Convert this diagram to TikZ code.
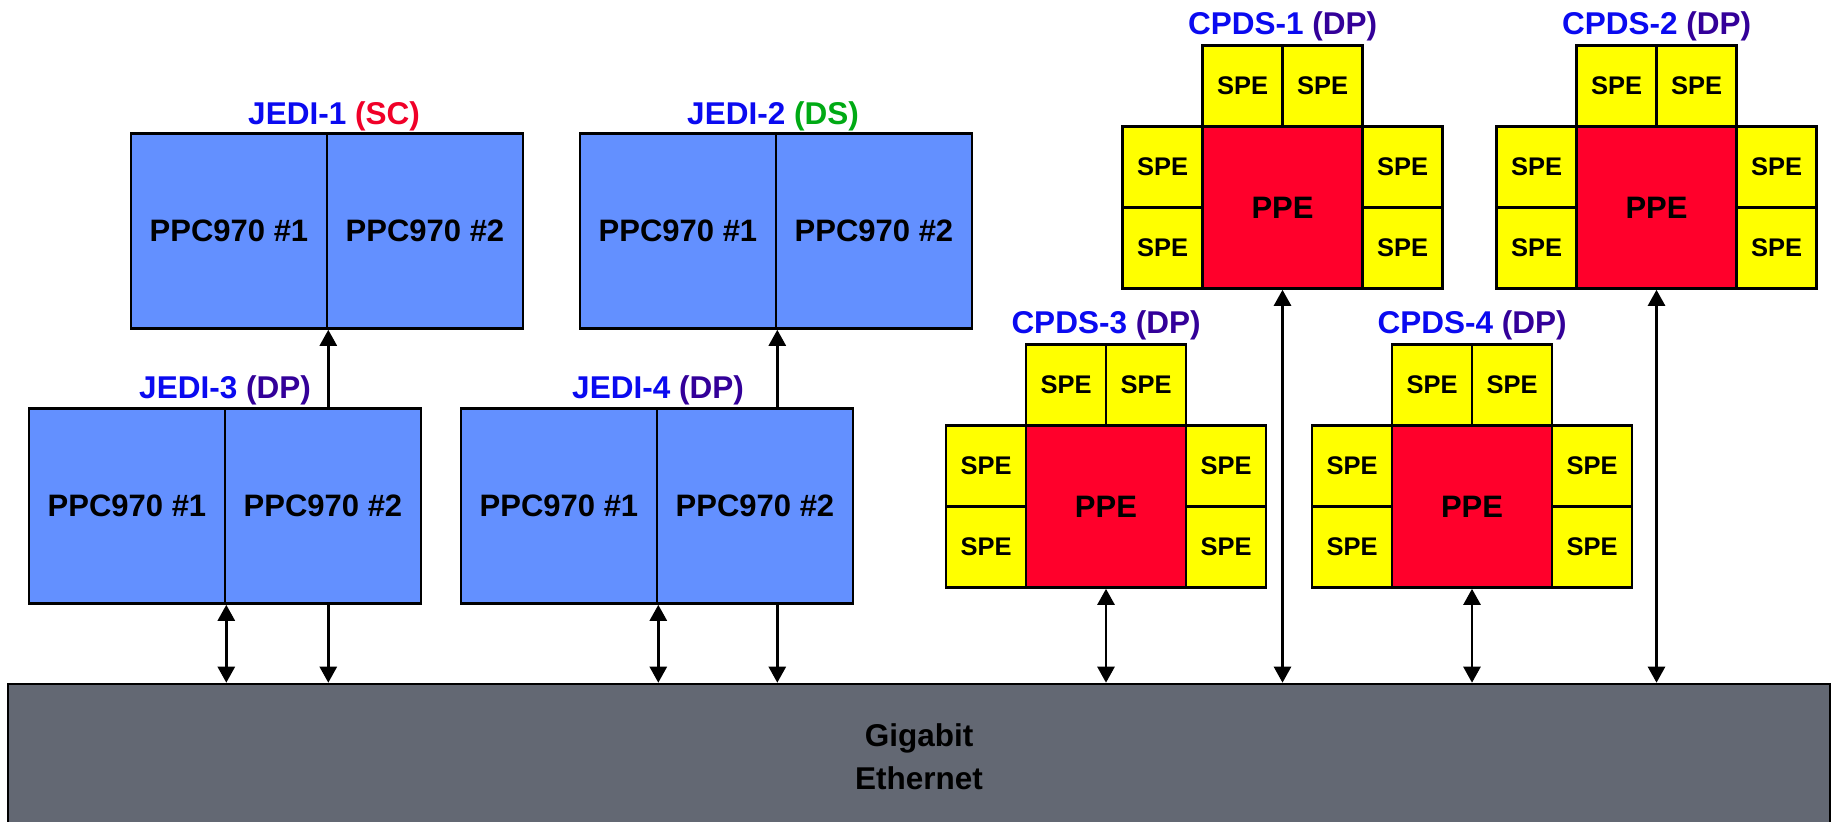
\documentclass[tikz,border=0pt]{standalone}
\usepackage{fontspec}
\setmainfont{Liberation Sans}
\usetikzlibrary{arrows.meta}
\definecolor{jblue}{RGB}{99,144,255}
\definecolor{ppered}{RGB}{255,0,43}
\definecolor{speyel}{RGB}{255,255,0}
\definecolor{ethgray}{RGB}{99,104,115}
\definecolor{lblue}{RGB}{10,10,240}
\definecolor{lred}{RGB}{240,0,40}
\definecolor{lgreen}{RGB}{0,170,20}
\definecolor{lpurple}{RGB}{51,0,153}
\tikzset{
  bigfont/.style={font=\bfseries\fontsize{15.5}{18}\selectfont},
  half/.style={draw, line width=1.3pt, fill=jblue, inner sep=0pt,
    minimum width=98pt, minimum height=97.5pt, bigfont},
  spe/.style={draw, line width=1.3pt, fill=speyel, inner sep=0pt,
    minimum width=40pt, minimum height=40.5pt, font=\bfseries\fontsize{12.75}{15}\selectfont},
  ppe/.style={draw, line width=1.3pt, fill=ppered, inner sep=0pt,
    minimum width=80pt, minimum height=81pt, bigfont},
  lbl/.style={anchor=base, inner sep=0pt, font=\bfseries\fontsize{15.75}{18}\selectfont},
  ethbox/.style={draw, line width=1.3pt, fill=ethgray, inner sep=0pt,
    minimum width=911pt, minimum height=73pt, align=center,
    font=\bfseries\fontsize{15.75}{21.3}\selectfont},
  uarr/.style={line width=1.3pt, -{Triangle[width=8.5pt,length=8pt]}},
  darr/.style={line width=1.3pt, {Triangle[width=8.5pt,length=8pt]}-{Triangle[width=8.5pt,length=8pt]}}
}
% #1 name prefix, #2 left x, #3 top y, #4 label number
\newcommand\cpdsblock[4]{%
  \node[spe] (#1t1) at ({#2+120},{#3+40.5}) {SPE};
  \node[spe] (#1t2) at ({#2+200},{#3+40.5}) {SPE};
  \node[spe] (#1l1) at ({#2+40},{#3+121.5}) {SPE};
  \node[spe] (#1l2) at ({#2+40},{#3+202.5}) {SPE};
  \node[spe] (#1r1) at ({#2+280},{#3+121.5}) {SPE};
  \node[spe] (#1r2) at ({#2+280},{#3+202.5}) {SPE};
  \node[ppe] (#1p) at ({#2+160},{#3+162}) {PPE};
  \node[lbl] (#1lab) at ({#2+160},{#3-11}) {\textcolor{lblue}{CPDS-#4} \textcolor{lpurple}{(DP)}};
}
\begin{document}
\begin{tikzpicture}[x=0.5pt,y=-0.5pt]
\useasboundingbox (0,0) rectangle (1831,821);

% Gigabit Ethernet
\node[ethbox] (eth) at (919,757) {Gigabit\\Ethernet};

% JEDI-1
\node[half] (j1a) at (229,231) {PPC970 \#1};
\node[half] (j1b) at (425,231) {PPC970 \#2};
\node[lbl] (j1lab) at (334,124) {\textcolor{lblue}{JEDI-1} \textcolor{lred}{(SC)}};
% JEDI-2
\node[half] (j2a) at (678,231) {PPC970 \#1};
\node[half] (j2b) at (874,231) {PPC970 \#2};
\node[lbl] (j2lab) at (773,124) {\textcolor{lblue}{JEDI-2} \textcolor{lgreen}{(DS)}};
% JEDI-3
\node[half] (j3a) at (127,506) {PPC970 \#1};
\node[half] (j3b) at (323,506) {PPC970 \#2};
\node[lbl] (j3lab) at (225,398) {\textcolor{lblue}{JEDI-3} \textcolor{lpurple}{(DP)}};
% JEDI-4
\node[half] (j4a) at (559,506) {PPC970 \#1};
\node[half] (j4b) at (755,506) {PPC970 \#2};
\node[lbl] (j4lab) at (658,398) {\textcolor{lblue}{JEDI-4} \textcolor{lpurple}{(DP)}};

% CPDS blocks
\cpdsblock{c1}{1122.5}{45.5}{1}
\cpdsblock{c2}{1496.5}{45.5}{2}
\cpdsblock{c3}{946}{344.5}{3}
\cpdsblock{c4}{1312}{344.5}{4}

% JEDI connectors
\draw[uarr] (j1a.south east |- j3b.north) -- (j1a.south east);
\draw[uarr] (j2a.south east |- j4b.north) -- (j2a.south east);
\draw[darr] (j3a.south east) -- (j3a.south east |- eth.north);
\draw[uarr] (j1a.south east |- j3b.south) -- (j1a.south east |- eth.north);
\draw[darr] (j4a.south east) -- (j4a.south east |- eth.north);
\draw[uarr] (j2a.south east |- j4b.south) -- (j2a.south east |- eth.north);

% CPDS connectors
\draw[darr] (c1p.south) -- (c1p.south |- eth.north);
\draw[darr] (c2p.south) -- (c2p.south |- eth.north);
\draw[darr] (c3p.south) -- (c3p.south |- eth.north);
\draw[darr] (c4p.south) -- (c4p.south |- eth.north);
\end{tikzpicture}
\end{document}
